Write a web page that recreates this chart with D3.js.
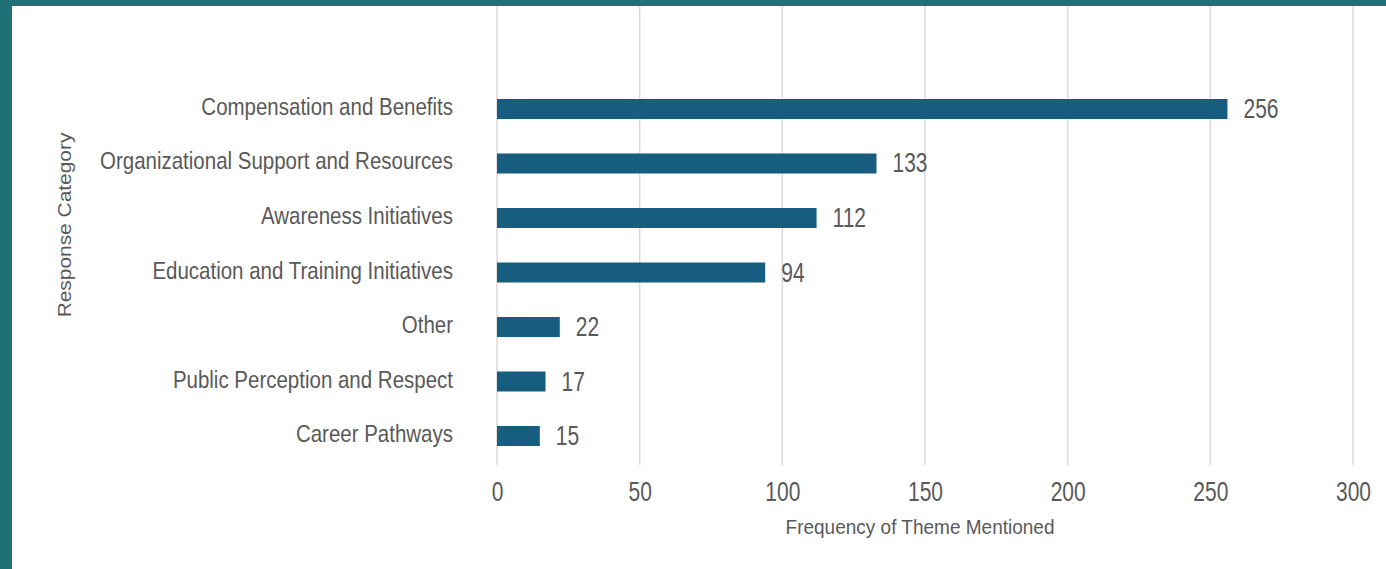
<!DOCTYPE html>
<html>
<head>
<meta charset="utf-8">
<script src="https://cdn.jsdelivr.net/npm/d3@7"></script>
<style>
  html, body { margin: 0; padding: 0; background: #1f7077; }
  #chart { position: absolute; left: 12px; top: 6px; width: 1374px; height: 563px; background: #fff; }
  text { font-family: 'Liberation Sans', Arial, sans-serif; fill: #595959; }
</style>
</head>
<body>
<div id="chart"></div>
<script>
const categories = [
  'Compensation and Benefits',
  'Organizational Support and Resources',
  'Awareness Initiatives',
  'Education and Training Initiatives',
  'Other',
  'Public Perception and Respect',
  'Career Pathways'
];
const counts = [ 256, 133, 112, 94, 22, 17, 15 ];
const xTicks = [ 0, 50, 100, 150, 200, 250, 300 ];

const width = 1374;
const height = 563;
const margin = { top: 0, right: 33, bottom: 104, left: 485 };
const w = width - margin.left - margin.right;
const h = height - margin.top - margin.bottom;

// the source picture is stretched vertically, so text is too
const stretch = 1.3;

const data = categories.map((c, i) => ({ name: c, value: counts[i] }));

const svg = d3.select('#chart').append('svg')
  .attr('width', width)
  .attr('height', height);

const plot = svg.append('g')
  .attr('transform', `translate(${margin.left},${margin.top})`);

const x = d3.scaleLinear().domain([ 0, 300 ]).range([ 0, w ]);
const y = d3.scaleBand().domain(categories)
  .range([ 58.5, 474.5 ])
  .paddingInner(0.633)
  .paddingOuter(0.633);

// grid
plot.append('g')
  .selectAll('line')
    .data(xTicks)
  .enter().append('line')
    .attr('x1', d => x(d))
    .attr('x2', d => x(d))
    .attr('y1', 0)
    .attr('y2', h)
    .attr('stroke', '#d9d9d9')
    .attr('stroke-width', 1.5);

// x axis
plot.append('g')
  .attr('transform', `translate(0,${h})`)
  .call(d3.axisBottom(x).tickValues(xTicks).tickSize(0))
  .call(g => g.select('.domain').remove())
  .selectAll('text')
    .attr('y', null)
    .attr('dy', null)
    .attr('transform', `translate(0,36) scale(1,${stretch})`)
    .attr('font-size', 21)
    .attr('fill', '#595959');

// y axis labels
plot.append('g')
  .call(d3.axisLeft(y).tickSize(0))
  .call(g => g.select('.domain').remove())
  .selectAll('text')
    .attr('x', null)
    .attr('dy', null)
    .attr('transform', 'translate(-44,6) scale(1,1.2)')
    .attr('font-size', 20.5)
    .attr('fill', '#595959');

// bars
plot.append('g')
  .selectAll('rect')
    .data(data)
  .enter().append('rect')
    .attr('x', x(0))
    .attr('y', d => y(d.name))
    .attr('width', d => x(d.value) - x(0))
    .attr('height', y.bandwidth())
    .attr('fill', '#165d7f');

// value labels
plot.append('g')
  .selectAll('text')
    .data(data)
  .enter().append('text')
    .attr('transform', d => `translate(${x(d.value) + 16},${y(d.name) + y.bandwidth() / 2 + 9}) scale(1,${stretch})`)
    .attr('font-size', 21)
    .text(d => d.value);

// axis titles
svg.append('text')
  .attr('transform', `translate(${margin.left + 423},528) scale(1,1.1)`)
  .attr('text-anchor', 'middle')
  .attr('font-size', 19)
  .text('Frequency of Theme Mentioned');

svg.append('text')
  .attr('transform', 'translate(59,219) rotate(-90) scale(1.1,1)')
  .attr('text-anchor', 'middle')
  .attr('font-size', 19)
  .text('Response Category');
</script>
</body>
</html>
